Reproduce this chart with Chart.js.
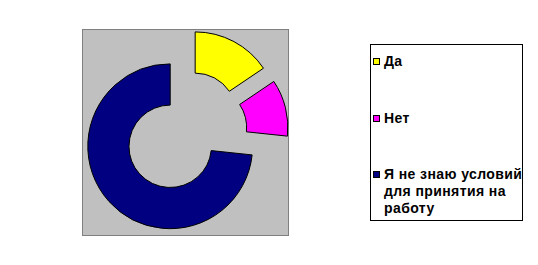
<!DOCTYPE html>
<html>
<head>
<meta charset="utf-8">
<script src="https://cdn.jsdelivr.net/npm/chart.js@4/dist/chart.umd.min.js"></script>
<style>
	html, body { margin: 0; padding: 0; background: #fff; }
	#wrap { position: relative; width: 538px; height: 265px; overflow: hidden; }
	#chart { position: absolute; left: 0; top: 0; }
	#legend {
		position: absolute; left: 370px; top: 44px; width: 153px; height: 177px;
		border: 1px solid #000; background: #fff; overflow: hidden; box-sizing: border-box;
		font-family: "Liberation Sans", Arial, sans-serif; font-weight: bold; font-size: 14px;
		letter-spacing: 0.4px; line-height: 17px; color: #000;
	}
	.item { position: absolute; left: 0; white-space: nowrap; }
	.box { position: absolute; left: 2px; top: 5px; width: 7px; height: 7px; border: 1px solid #000; box-sizing: border-box; }
	.txt { position: absolute; left: 13px; top: 0; }
</style>
</head>
<body>
<div id="wrap">
	<canvas id="chart" width="538" height="265"></canvas>
	<div id="legend"></div>
</div>
<script>
const labels = ['Да', 'Нет', ['Я не знаю условий', 'для принятия на', 'работу']];
const values = [14, 10, 66];
const colors = ['#FFFF00', '#FF00FF', '#000080'];

// legend rows (top of each item inside the box)
const legendTops = [8, 65, 121];
const explodeRatio = 0.25;

// gray plot area behind the doughnut
const plotArea = {
	id: 'plotArea',
	beforeDraw(chart) {
		const {ctx, chartArea: a} = chart;
		ctx.save();
		ctx.fillStyle = '#C0C0C0';
		ctx.fillRect(a.left, a.top, a.width, a.height);
		ctx.strokeStyle = '#808080';
		ctx.lineWidth = 1;
		ctx.strokeRect(a.left + 0.5, a.top + 0.5, a.width - 1, a.height - 1);
		ctx.restore();
	}
};

// every slice pulled out from the centre by a share of the radius
const explode = {
	id: 'explode',
	beforeDatasetDraw(chart, args) {
		const ctx = chart.ctx;
		args.meta.data.forEach((arc) => {
			const mid = (arc.startAngle + arc.endAngle) / 2;
			const d = arc.outerRadius * explodeRatio;
			ctx.save();
			ctx.translate(Math.cos(mid) * d, Math.sin(mid) * d);
			arc.draw(ctx, chart.chartArea);
			ctx.restore();
		});
		return false;
	}
};

new Chart(document.getElementById('chart'), {
	type: 'doughnut',
	data: {
		labels: labels,
		datasets: [{
			data: values,
			backgroundColor: colors,
			borderColor: '#000',
			borderWidth: 1,
			hoverOffset: 0,
		}]
	},
	options: {
		responsive: false,
		animation: false,
		events: [],
		radius: '80%',
		cutout: '50%',
		layout: { padding: { left: 82, top: 29, right: 249, bottom: 29 } },
		plugins: {
			legend: { display: false },
			tooltip: { enabled: false },
		}
	},
	plugins: [plotArea, explode]
});

{ // HTML legend
	const legend = document.getElementById('legend');
	labels.forEach((label, i) => {
		const item = document.createElement('div');
		item.className = 'item';
		item.style.top = legendTops[i] + 'px';
		const box = document.createElement('div');
		box.className = 'box';
		box.style.background = colors[i];
		const txt = document.createElement('div');
		txt.className = 'txt';
		const lines = Array.isArray(label) ? label : [label];
		lines.forEach((line, j) => {
			if (j) txt.appendChild(document.createElement('br'));
			txt.appendChild(document.createTextNode(line));
		});
		item.appendChild(box);
		item.appendChild(txt);
		legend.appendChild(item);
	});
}
</script>
</body>
</html>
